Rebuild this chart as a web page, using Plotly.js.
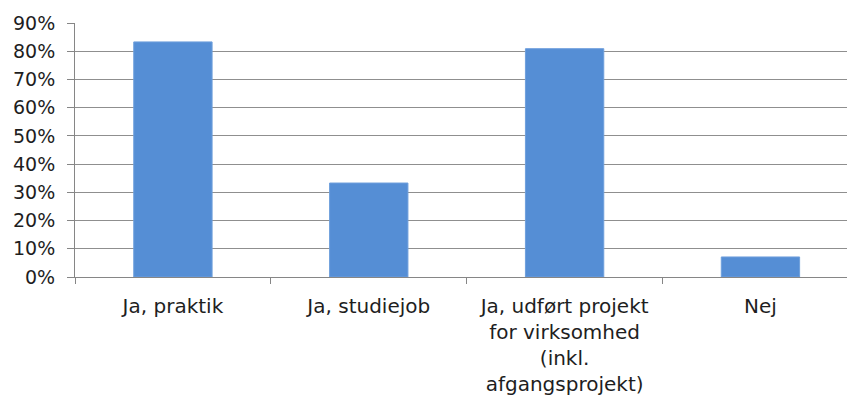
<!DOCTYPE html>
<html>
<head>
<meta charset="utf-8">
<script src="https://cdn.plot.ly/plotly-3.0.1.min.js"></script>
<style>html,body{margin:0;padding:0;overflow:hidden;background:#fff;}#chart{width:847px;height:401px;}</style>
</head>
<body>
<div id="chart"></div>
<script>
const categories = ["Ja, praktik", "Ja, studiejob", "Ja, udført projekt<br>for virksomhed<br>(inkl.<br>afgangsprojekt)", "Nej"];
const values = [0.833, 0.333, 0.809, 0.071];
const yTickValues = [0, 0.1, 0.2, 0.3, 0.4, 0.5, 0.6, 0.7, 0.8, 0.9];

const font = {family: "DejaVu Sans", size: 19, color: "#1e1e1e"};
const xfont = {family: "DejaVu Sans", size: 20, color: "#1e1e1e"};

Plotly.newPlot("chart", [{
  type: "bar",
  x: categories,
  y: values,
  width: 0.4,
  marker: {color: "#558ed5", line: {color: "#6e9fdc", width: 1}},
  hoverinfo: "skip"
}], {
  width: 847, height: 401,
  margin: {l: 75, r: 0, t: 23, b: 124},
  paper_bgcolor: "#ffffff", plot_bgcolor: "#ffffff",
  font: font,
  showlegend: false,
  xaxis: {
    type: "category",
    range: [-0.5, 3.442],
    tickson: "boundaries",
    ticks: "outside", ticklen: 6, tickcolor: "#868686", tickwidth: 1,
    showline: true, linecolor: "#868686", linewidth: 1,
    showgrid: false, zeroline: false,
    tickfont: xfont,
    ticklabelstandoff: 11
  },
  yaxis: {
    range: [0, 0.9],
    tickvals: yTickValues,
    tickformat: ".0%",
    ticks: "outside", ticklen: 7, tickcolor: "#868686", tickwidth: 1,
    showline: true, linecolor: "#868686", linewidth: 1,
    showgrid: true, gridcolor: "#8f8f8f", gridwidth: 1,
    zeroline: false,
    tickfont: font,
    ticklabelstandoff: 8
  }
}, {displayModeBar: false, staticPlot: true});
</script>
</body>
</html>
